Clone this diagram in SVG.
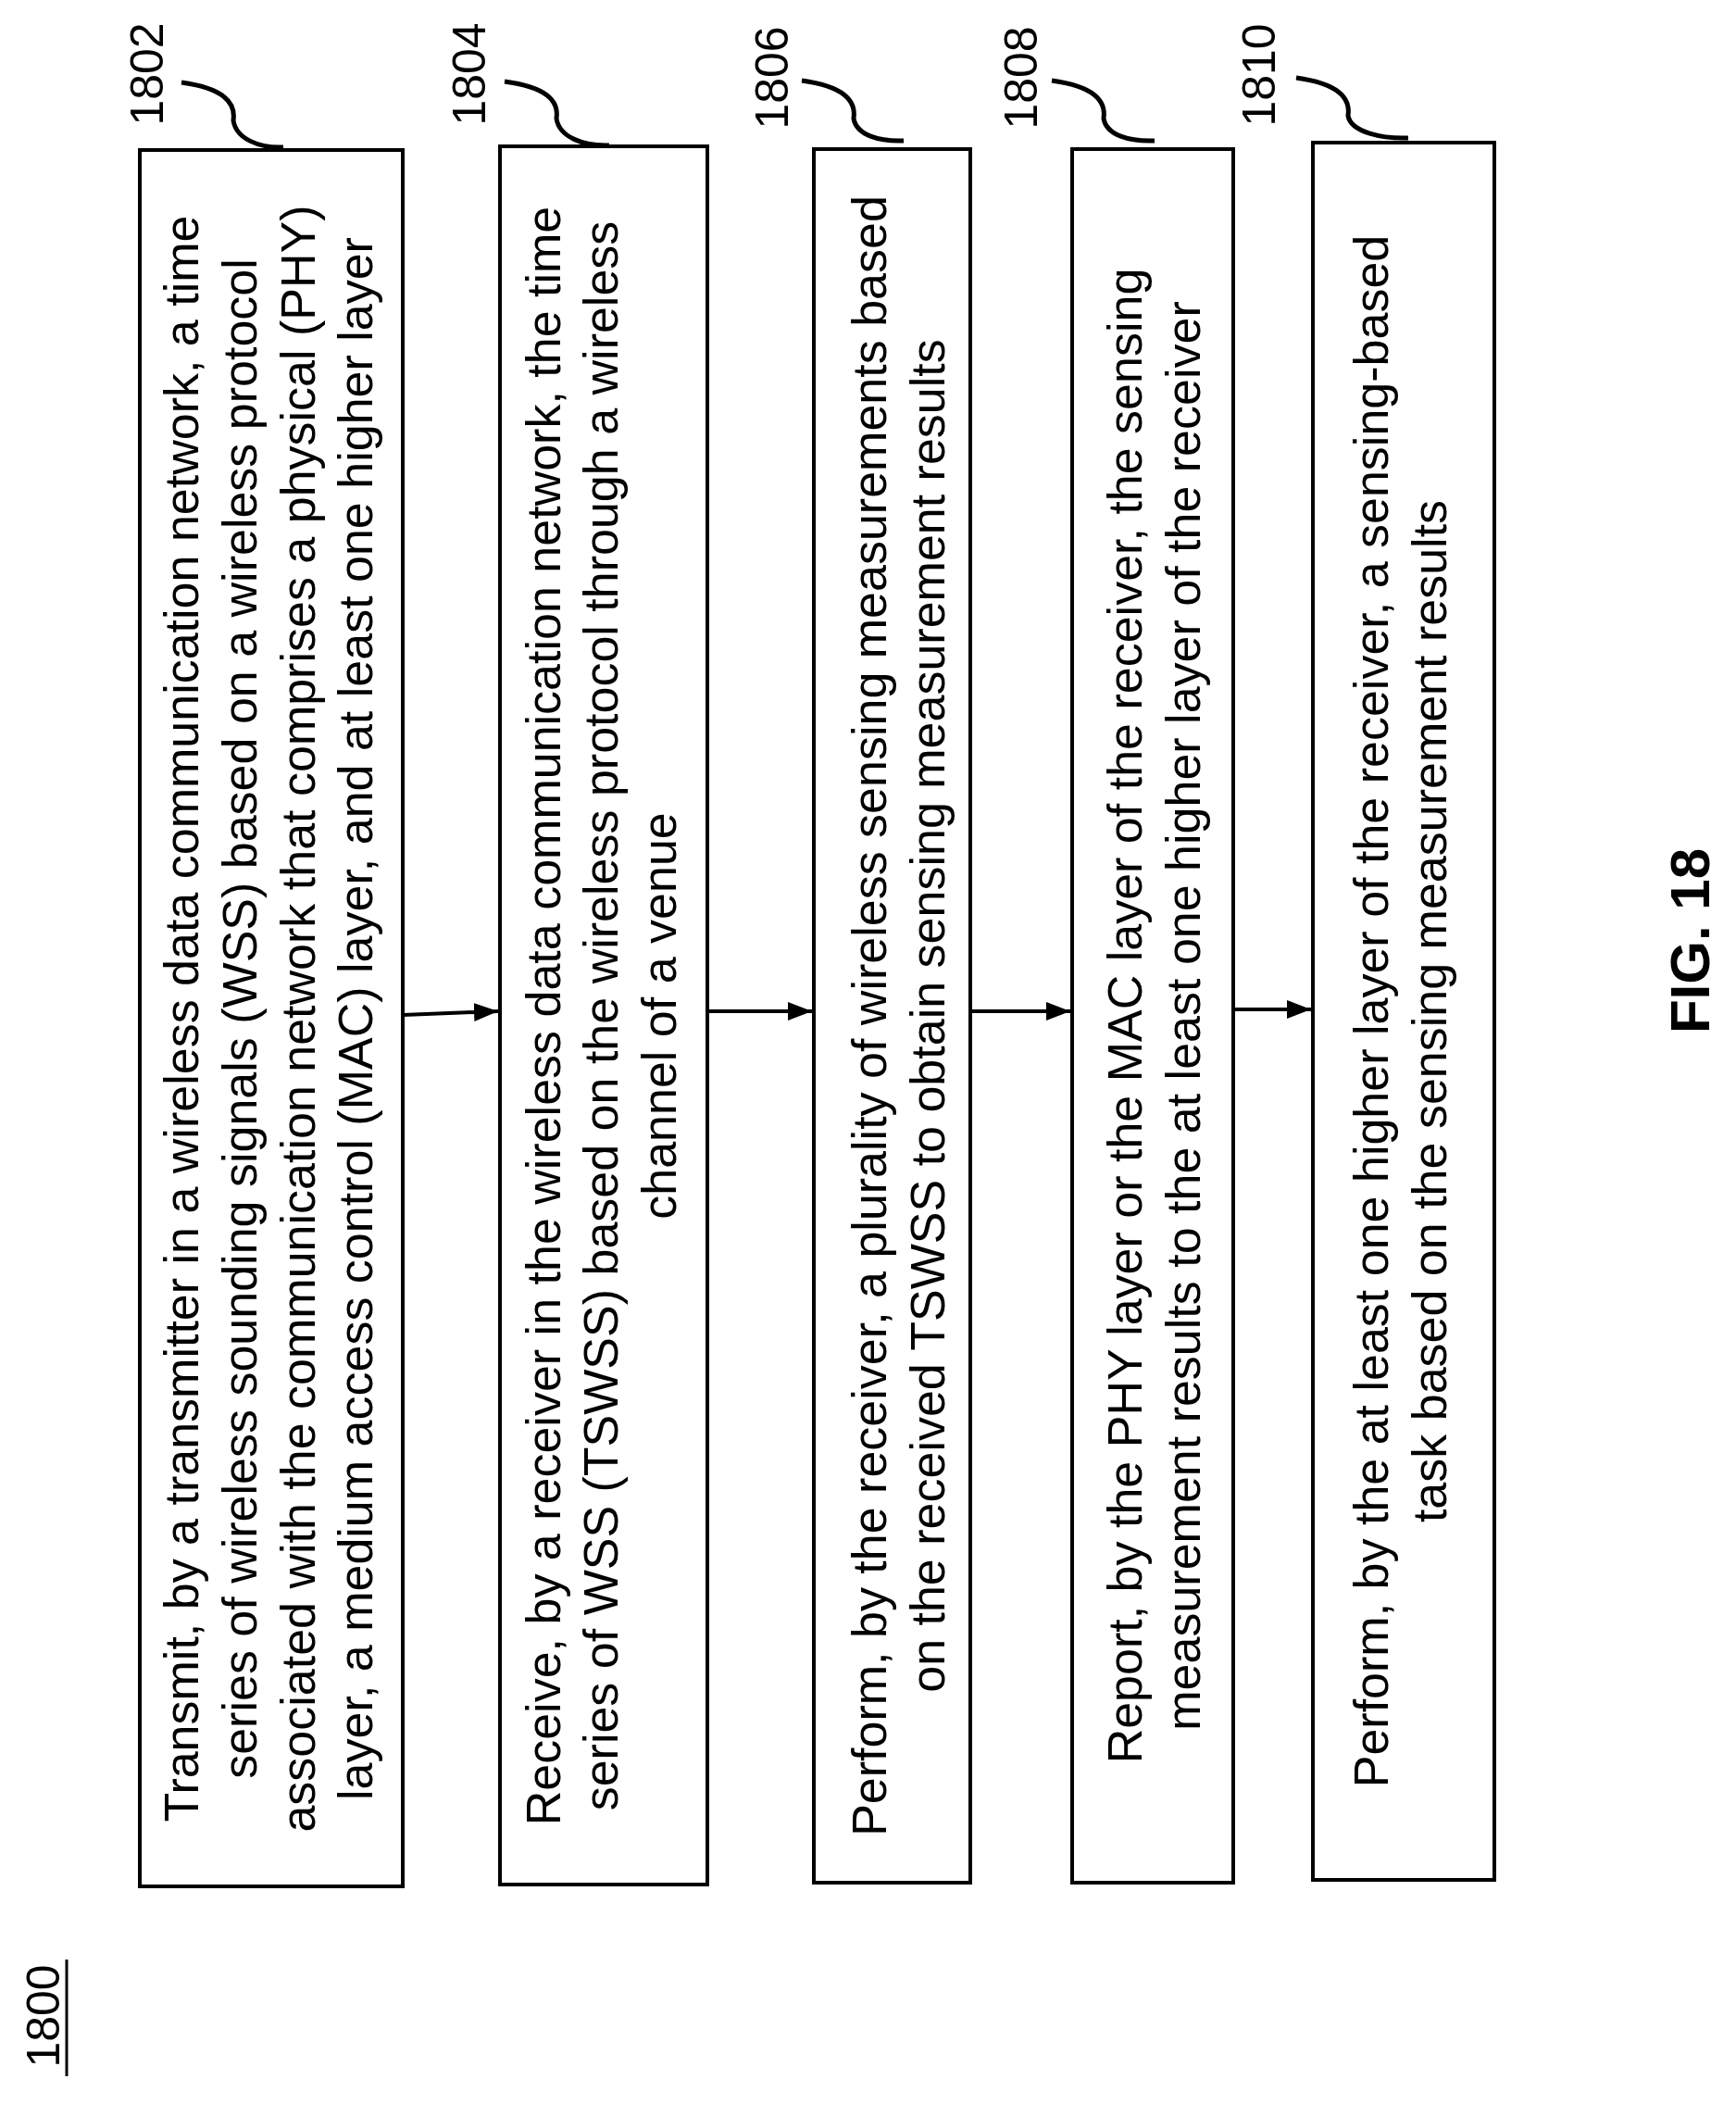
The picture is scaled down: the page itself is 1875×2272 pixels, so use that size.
<svg xmlns="http://www.w3.org/2000/svg" width="1875" height="2272" viewBox="0 0 1875 2272">
<style>
.box{fill:none;stroke:#000;stroke-width:4}
.t{font-family:"Liberation Sans",Arial,sans-serif;font-size:52px;fill:#000;text-anchor:middle}
.lbl{font-family:"Liberation Sans",Arial,sans-serif;font-size:50px;fill:#000;text-anchor:middle}
.sq{fill:none;stroke:#000;stroke-width:5}
.c{stroke:#000;stroke-width:4;fill:none}
</style>
<defs>
<marker id="a" markerWidth="26" markerHeight="20" refX="26" refY="10" orient="auto" markerUnits="userSpaceOnUse"><path d="M0,0 L26,10 L0,20 z" fill="#000"/></marker></defs>
<g id="n1802">
<rect class="box" x="151" y="162" width="284" height="1875"/>
<text class="t" transform="translate(0,1100) rotate(-90)"><tspan x="0" y="214">Transmit, by a transmitter in a wireless data communication network, a time</tspan><tspan x="0" y="277">series of wireless sounding signals (WSS) based on a wireless protocol</tspan><tspan x="0" y="340">associated with the communication network that comprises a physical (PHY)</tspan><tspan x="0" y="402">layer, a medium access control (MAC) layer, and at least one higher layer</tspan></text>
<text class="lbl" transform="translate(176,80) rotate(-90)" x="0" y="0">1802</text>
<path class="sq" d="M196,89 C240,95 255,110 252,130 C255,150 280,160 306,159"/>
</g>
<g id="n1804">
<rect class="box" x="540" y="158" width="224" height="1877"/>
<text class="t" transform="translate(0,1097) rotate(-90)"><tspan x="0" y="605">Receive, by a receiver in the wireless data communication network,  the time</tspan><tspan x="0" y="667">series of WSS (TSWSS) based on the wireless protocol through a wireless</tspan><tspan x="0" y="730">channel of a venue</tspan></text>
<text class="lbl" transform="translate(524,80) rotate(-90)" x="0" y="0">1804</text>
<path class="sq" d="M545,88 C589,94 604,108 601,128 C604,148 630,158 658,157"/>
</g>
<g id="n1806">
<rect class="box" x="879" y="161" width="169" height="1872"/>
<text class="t" transform="translate(0,1097) rotate(-90)"><tspan x="0" y="957">Perform, by the receiver, a plurality of wireless sensing measurements based</tspan><tspan x="0" y="1020">on the received TSWSS to obtain sensing measurement results</tspan></text>
<text class="lbl" transform="translate(851,84) rotate(-90)" x="0" y="0">1806</text>
<path class="sq" d="M866,87 C910,93 925,108 922,128 C925,146 950,153 976,152"/>
</g>
<g id="n1808">
<rect class="box" x="1158" y="161" width="174" height="1872"/>
<text class="t" transform="translate(0,1097) rotate(-90)"><tspan x="0" y="1233">Report, by the PHY layer or the MAC layer of the receiver, the sensing</tspan><tspan x="0" y="1296">measurement results to the at least one higher layer of the receiver</tspan></text>
<text class="lbl" transform="translate(1120,84) rotate(-90)" x="0" y="0">1808</text>
<path class="sq" d="M1136,87 C1180,93 1195,108 1192,128 C1195,146 1220,153 1247,152"/>
</g>
<g id="n1810">
<rect class="box" x="1418" y="154" width="196" height="1876"/>
<text class="t" transform="translate(0,1092) rotate(-90)"><tspan x="0" y="1499">Perform, by the at least one higher layer of the receiver, a sensing-based</tspan><tspan x="0" y="1562">task based on the sensing measurement results</tspan></text>
<text class="lbl" transform="translate(1377,81) rotate(-90)" x="0" y="0">1810</text>
<path class="sq" d="M1400,84 C1444,90 1459,105 1456,125 C1459,143 1494,150 1521,149"/>
</g>
<g id="connectors">
<line class="c" x1="435" y1="1096" x2="538" y2="1092" marker-end="url(#a)"/>
<line class="c" x1="764" y1="1092" x2="877" y2="1092" marker-end="url(#a)"/>
<line class="c" x1="1048" y1="1092" x2="1156" y2="1092" marker-end="url(#a)"/>
<line class="c" x1="1332" y1="1090" x2="1416" y2="1090" marker-end="url(#a)"/>
</g>
<g id="fig">
<text class="lbl" transform="translate(64,2177) rotate(-90)" x="0" y="0">1800</text>
<line x1="72" y1="2116" x2="72" y2="2242" stroke="#000" stroke-width="3"/>
<text transform="translate(1846,1016) rotate(-90)" x="0" y="0" style="font-family:'Liberation Sans',Arial,sans-serif;font-size:60px;font-weight:bold;text-anchor:middle">FIG. 18</text>
</g>
</svg>
